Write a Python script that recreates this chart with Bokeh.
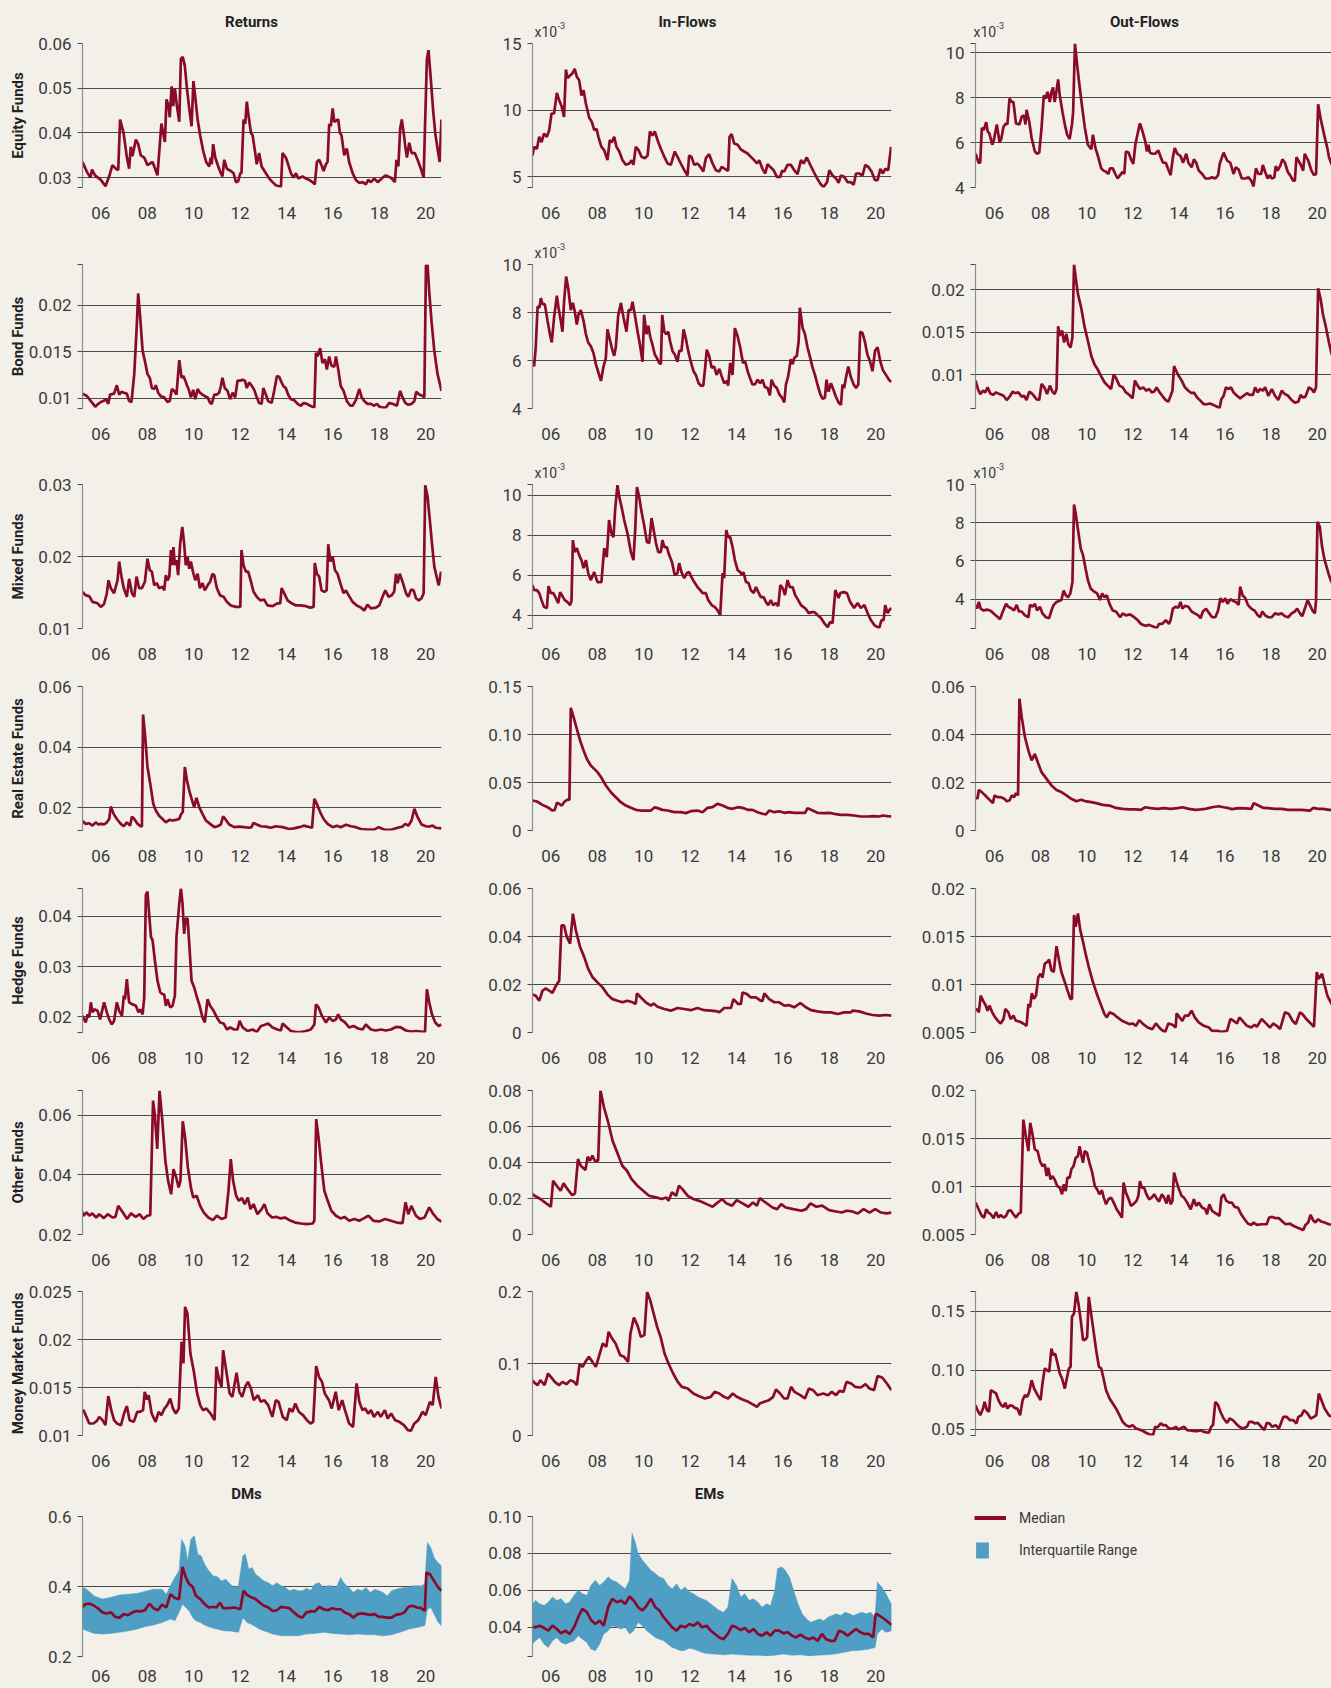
import math
from bokeh.plotting import figure
from bokeh.layouts import row, column
from bokeh.models import Range1d, FixedTicker, Label, Legend, LegendItem, GridBox
from bokeh.embed import file_html
from bokeh.resources import INLINE

BG = "#f2f0e9"
RED = "#8a0a2c"
BLUE = "#4f9ec4"
GRID = "#4a4a4a"
AXIS = "#8c8c8c"
TXT = "#3a3a3a"
FONT = "Roboto"

YEAR_TICKS = [2006, 2008, 2010, 2012, 2014, 2016, 2018, 2020]
YEAR_LABELS = ["06", "08", "10", "12", "14", "16", "18", "20"]
COL_TITLES = ["Returns", "In-Flows", "Out-Flows"]
ROW_LABELS = ["Equity Funds", "Bond Funds", "Mixed Funds", "Real Estate Funds",
              "Hedge Funds", "Other Funds", "Money Market Funds"]
BOTTOM_TITLES = ["DMs", "EMs"]
LEGEND_LABELS = ["Median", "Interquartile Range"]
SCALE_TEXT = ("x10", "-3")

# ---------------- data (year, value) ----------------
EQ_RET = [(2005.21,.0335),(2005.40,.0313),(2005.55,.0300),(2005.62,.0318),(2005.75,.0305),(2006.00,.0295),(2006.20,.0281),(2006.36,.0303),(2006.50,.0328),(2006.65,.0320),(2006.75,.0317),(2006.83,.0430),(2006.98,.0400),(2007.12,.0346),(2007.22,.0320),(2007.29,.0369),(2007.36,.0348),(2007.51,.0385),(2007.61,.0375),(2007.72,.0350),(2007.87,.0345),(2008.01,.0328),(2008.23,.0335),(2008.34,.0320),(2008.44,.0305),(2008.61,.0421),(2008.76,.0380),(2008.83,.0475),(2008.92,.0460),(2008.97,.0435),(2009.05,.0504),(2009.12,.0460),(2009.19,.0500),(2009.28,.0460),(2009.38,.0425),(2009.45,.0566),(2009.53,.0570),(2009.62,.0550),(2009.71,.0500),(2009.81,.0455),(2009.91,.0415),(2009.99,.0516),(2010.07,.0480),(2010.17,.0430),(2010.28,.0395),(2010.41,.0360),(2010.54,.0335),(2010.67,.0325),(2010.74,.0345),(2010.78,.0330),(2010.84,.0375),(2010.93,.0345),(2011.06,.0325),(2011.17,.0310),(2011.24,.0303),(2011.32,.0340),(2011.43,.0320),(2011.60,.0315),(2011.72,.0310),(2011.82,.0290),(2011.92,.0292),(2012.01,.0310),(2012.06,.0310),(2012.15,.0430),(2012.22,.0420),(2012.29,.0470),(2012.36,.0440),(2012.47,.0400),(2012.54,.0395),(2012.64,.0360),(2012.72,.0330),(2012.82,.0355),(2012.93,.0325),(2013.11,.0310),(2013.26,.0298),(2013.40,.0290),(2013.54,.0283),(2013.76,.0279),(2013.83,.0355),(2013.97,.0345),(2014.07,.0330),(2014.19,.0310),(2014.30,.0300),(2014.41,.0310),(2014.51,.0298),(2014.69,.0303),(2014.84,.0298),(2014.98,.0295),(2015.12,.0290),(2015.22,.0285),(2015.31,.0335),(2015.41,.0340),(2015.53,.0325),(2015.60,.0315),(2015.70,.0330),(2015.77,.0335),(2015.84,.0420),(2015.91,.0415),(2015.99,.0455),(2016.06,.0425),(2016.23,.0430),(2016.30,.0400),(2016.37,.0395),(2016.49,.0350),(2016.60,.0365),(2016.70,.0335),(2016.85,.0310),(2016.99,.0295),(2017.14,.0288),(2017.28,.0290),(2017.42,.0285),(2017.52,.0295),(2017.64,.0290),(2017.78,.0298),(2017.93,.0290),(2018.14,.0300),(2018.28,.0305),(2018.50,.0300),(2018.67,.0290),(2018.74,.0340),(2018.82,.0325),(2018.90,.0410),(2018.97,.0430),(2019.05,.0400),(2019.12,.0370),(2019.19,.0345),(2019.29,.0378),(2019.39,.0355),(2019.53,.0355),(2019.65,.0340),(2019.79,.0320),(2019.91,.0300),(2020.05,.0565),(2020.12,.0585),(2020.22,.0520),(2020.32,.0450),(2020.41,.0400),(2020.48,.0375),(2020.60,.0335),(2020.68,.0430)]

EQ_IN = [(2005.21,6.6),(2005.28,7.25),(2005.40,7.1),(2005.50,8.0),(2005.60,7.6),(2005.71,8.25),(2005.83,8.0),(2005.93,8.5),(2006.03,9.75),(2006.14,9.75),(2006.26,11.3),(2006.36,10.75),(2006.47,10.25),(2006.57,9.5),(2006.65,13.05),(2006.72,12.4),(2006.83,12.6),(2006.93,12.75),(2007.03,13.1),(2007.12,12.5),(2007.22,12.25),(2007.32,11.1),(2007.41,11.5),(2007.51,10.5),(2007.65,9.45),(2007.77,9.1),(2007.87,8.5),(2007.97,8.6),(2008.05,8.0),(2008.18,7.25),(2008.30,7.0),(2008.44,6.25),(2008.54,7.75),(2008.63,7.6),(2008.73,8.0),(2008.83,7.25),(2008.95,6.9),(2009.09,6.25),(2009.23,5.9),(2009.38,6.0),(2009.48,6.25),(2009.56,5.9),(2009.66,7.25),(2009.78,7.0),(2009.91,6.5),(2010.05,6.4),(2010.17,6.6),(2010.27,8.4),(2010.38,8.1),(2010.48,8.4),(2010.60,7.75),(2010.74,7.1),(2010.89,6.5),(2011.03,6.0),(2011.17,5.9),(2011.34,6.9),(2011.46,6.5),(2011.60,6.0),(2011.75,5.5),(2011.89,5.1),(2011.96,6.6),(2012.06,6.5),(2012.18,5.9),(2012.32,6.0),(2012.44,5.75),(2012.57,5.4),(2012.68,6.4),(2012.82,6.7),(2012.97,6.0),(2013.11,5.5),(2013.26,5.4),(2013.36,5.75),(2013.50,5.6),(2013.64,5.45),(2013.70,8.0),(2013.79,8.2),(2013.90,7.5),(2014.05,7.4),(2014.19,7.05),(2014.33,6.9),(2014.48,6.75),(2014.62,6.5),(2014.76,6.25),(2014.88,6.0),(2014.98,6.25),(2015.12,5.6),(2015.24,5.25),(2015.34,5.95),(2015.45,5.75),(2015.60,5.5),(2015.74,5.0),(2015.89,5.0),(2015.96,5.45),(2016.06,5.4),(2016.20,5.9),(2016.34,5.9),(2016.49,5.5),(2016.63,5.2),(2016.78,6.25),(2016.89,6.0),(2017.03,6.45),(2017.18,5.9),(2017.32,5.4),(2017.47,4.9),(2017.61,4.5),(2017.75,4.22),(2017.90,4.6),(2018.00,5.5),(2018.14,5.1),(2018.28,4.9),(2018.40,4.55),(2018.50,5.1),(2018.64,5.0),(2018.79,4.6),(2018.93,4.6),(2019.05,4.4),(2019.15,5.25),(2019.29,5.25),(2019.43,5.1),(2019.55,5.9),(2019.68,5.75),(2019.82,5.4),(2019.97,4.75),(2020.08,4.75),(2020.20,5.6),(2020.31,5.25),(2020.41,5.6),(2020.54,5.5),(2020.66,7.25)]

EQ_OUT = [(2005.18,5.5),(2005.31,5.1),(2005.38,5.1),(2005.45,6.65),(2005.53,6.55),(2005.64,6.9),(2005.70,6.5),(2005.78,6.4),(2005.90,5.9),(2005.96,6.05),(2006.10,6.8),(2006.22,6.0),(2006.29,6.15),(2006.39,6.7),(2006.50,6.85),(2006.56,6.8),(2006.65,7.95),(2006.75,7.8),(2006.82,7.8),(2006.93,6.85),(2007.08,6.8),(2007.18,7.15),(2007.28,7.2),(2007.34,6.8),(2007.39,7.45),(2007.51,6.9),(2007.61,6.2),(2007.75,5.6),(2007.85,5.5),(2007.94,5.55),(2008.04,6.65),(2008.14,8.1),(2008.21,7.95),(2008.30,8.25),(2008.40,7.8),(2008.47,8.25),(2008.54,8.45),(2008.61,7.8),(2008.69,8.3),(2008.76,8.8),(2008.83,8.1),(2008.95,7.35),(2009.05,6.8),(2009.15,6.35),(2009.26,6.15),(2009.36,6.8),(2009.41,7.35),(2009.49,10.4),(2009.59,9.4),(2009.69,8.5),(2009.81,7.5),(2009.92,6.65),(2010.05,5.9),(2010.20,5.7),(2010.27,6.35),(2010.38,5.75),(2010.50,5.35),(2010.63,4.85),(2010.73,4.75),(2010.84,4.7),(2010.94,4.6),(2011.01,4.85),(2011.13,4.85),(2011.24,4.6),(2011.34,4.4),(2011.45,4.55),(2011.56,4.7),(2011.63,4.6),(2011.70,5.6),(2011.82,5.55),(2011.92,5.25),(2012.02,5.05),(2012.11,5.9),(2012.21,6.4),(2012.31,6.85),(2012.42,6.5),(2012.54,6.05),(2012.61,5.6),(2012.68,5.9),(2012.74,5.55),(2012.85,5.5),(2012.97,5.5),(2013.11,5.65),(2013.21,5.35),(2013.31,5.1),(2013.43,5.1),(2013.54,4.8),(2013.64,4.55),(2013.74,5.35),(2013.82,5.75),(2013.93,5.5),(2014.07,5.4),(2014.18,5.1),(2014.32,5.5),(2014.41,5.1),(2014.55,4.9),(2014.65,5.25),(2014.75,5.1),(2014.86,4.75),(2015.01,4.6),(2015.15,4.4),(2015.30,4.4),(2015.44,4.45),(2015.58,4.4),(2015.70,4.55),(2015.77,5.05),(2015.87,5.35),(2015.94,5.55),(2016.09,5.2),(2016.23,5.1),(2016.37,4.6),(2016.47,4.9),(2016.59,4.8),(2016.73,4.4),(2016.88,4.4),(2017.02,4.45),(2017.14,4.3),(2017.24,4.05),(2017.34,4.85),(2017.45,4.6),(2017.57,4.6),(2017.64,5.0),(2017.74,4.7),(2017.85,4.4),(2017.95,4.55),(2018.03,4.4),(2018.14,4.45),(2018.20,4.95),(2018.28,4.75),(2018.39,4.95),(2018.49,5.25),(2018.60,5.1),(2018.72,4.7),(2018.82,4.55),(2018.96,4.3),(2019.03,4.3),(2019.10,5.35),(2019.18,5.2),(2019.29,5.0),(2019.39,4.75),(2019.46,5.5),(2019.61,5.2),(2019.75,4.75),(2019.86,4.55),(2019.95,4.6),(2020.04,7.7),(2020.15,7.05),(2020.30,6.35),(2020.44,5.75),(2020.51,5.35),(2020.60,5.1),(2020.70,4.9)]

BOND_RET = [(2005.21,.0105),(2005.40,.01025),(2005.57,.0097),(2005.76,.0091),(2005.89,.0094),(2006.00,.0096),(2006.11,.0097),(2006.22,.0099),(2006.32,.0094),(2006.40,.0104),(2006.57,.0105),(2006.69,.0114),(2006.79,.0104),(2006.89,.0107),(2006.99,.0106),(2007.12,.0105),(2007.22,.0097),(2007.32,.0096),(2007.44,.0126),(2007.55,.0179),(2007.61,.0213),(2007.70,.0186),(2007.80,.0151),(2007.90,.0140),(2008.01,.0126),(2008.11,.0122),(2008.20,.0111),(2008.30,.0110),(2008.37,.0114),(2008.47,.0106),(2008.59,.0102),(2008.73,.0101),(2008.87,.0096),(2008.97,.0097),(2009.06,.0110),(2009.16,.0108),(2009.26,.0104),(2009.38,.0141),(2009.48,.0122),(2009.56,.0124),(2009.64,.0119),(2009.71,.0114),(2009.78,.0110),(2009.88,.0101),(2009.98,.0109),(2010.07,.0099),(2010.17,.0110),(2010.27,.0106),(2010.38,.0104),(2010.50,.0102),(2010.60,.0101),(2010.71,.0095),(2010.78,.0094),(2010.89,.0104),(2011.00,.0104),(2011.10,.0106),(2011.17,.0113),(2011.24,.0122),(2011.34,.0111),(2011.46,.0108),(2011.57,.0099),(2011.68,.0106),(2011.79,.0101),(2011.89,.0119),(2012.01,.0119),(2012.11,.0120),(2012.21,.0119),(2012.29,.0111),(2012.39,.0117),(2012.49,.0114),(2012.61,.0109),(2012.72,.0101),(2012.82,.0095),(2012.93,.0094),(2013.00,.0111),(2013.11,.0104),(2013.21,.0097),(2013.36,.0095),(2013.47,.0108),(2013.59,.0124),(2013.69,.0123),(2013.79,.0117),(2013.87,.0113),(2013.97,.0111),(2014.07,.0104),(2014.19,.0099),(2014.33,.0098),(2014.48,.0094),(2014.62,.0092),(2014.74,.0095),(2014.88,.0094),(2015.02,.0092),(2015.12,.0091),(2015.20,.0090),(2015.27,.0149),(2015.34,.0145),(2015.45,.0154),(2015.55,.0138),(2015.66,.0142),(2015.74,.0131),(2015.84,.0145),(2015.94,.0135),(2016.06,.0134),(2016.13,.0145),(2016.23,.0131),(2016.34,.0113),(2016.46,.0108),(2016.60,.0097),(2016.75,.0092),(2016.85,.0092),(2016.99,.0098),(2017.14,.0110),(2017.24,.0101),(2017.35,.0097),(2017.49,.0094),(2017.64,.0094),(2017.78,.0092),(2017.90,.0094),(2018.00,.0091),(2018.14,.0090),(2018.28,.0090),(2018.43,.0095),(2018.57,.0094),(2018.76,.0092),(2018.90,.0108),(2019.00,.0101),(2019.12,.0095),(2019.25,.0093),(2019.39,.0094),(2019.51,.0097),(2019.59,.0107),(2019.72,.0104),(2019.82,.0103),(2019.94,.0101),(2020.01,.0243),(2020.08,.0243),(2020.15,.0215),(2020.25,.0183),(2020.37,.0151),(2020.51,.0126),(2020.68,.0108)]

BOND_IN = [(2005.21,6.0),(2005.28,5.75),(2005.35,6.55),(2005.43,8.25),(2005.51,8.2),(2005.57,8.6),(2005.64,8.35),(2005.74,8.35),(2005.86,7.65),(2005.96,7.1),(2006.04,6.75),(2006.14,7.8),(2006.26,8.7),(2006.33,8.2),(2006.43,7.65),(2006.50,7.2),(2006.57,8.45),(2006.66,9.5),(2006.75,9.0),(2006.86,8.1),(2006.95,8.4),(2007.03,8.05),(2007.12,7.5),(2007.19,7.9),(2007.29,8.1),(2007.41,7.65),(2007.51,7.1),(2007.61,6.75),(2007.72,6.6),(2007.84,6.3),(2007.94,5.85),(2008.05,5.5),(2008.16,5.15),(2008.27,5.75),(2008.37,6.1),(2008.44,7.3),(2008.56,6.8),(2008.66,6.4),(2008.73,6.2),(2008.80,6.55),(2008.90,7.85),(2009.02,8.4),(2009.13,7.8),(2009.26,7.2),(2009.35,8.1),(2009.45,8.1),(2009.52,8.45),(2009.62,7.9),(2009.74,7.2),(2009.85,6.6),(2009.95,5.95),(2010.02,7.9),(2010.12,7.1),(2010.20,7.45),(2010.28,7.0),(2010.38,6.65),(2010.48,6.25),(2010.57,6.1),(2010.67,5.9),(2010.74,5.85),(2010.80,7.9),(2010.89,7.2),(2010.97,7.1),(2011.06,7.2),(2011.14,6.8),(2011.24,6.4),(2011.34,6.25),(2011.46,5.95),(2011.53,6.4),(2011.63,6.4),(2011.72,7.3),(2011.82,6.9),(2011.92,6.4),(2012.03,5.95),(2012.15,5.55),(2012.25,5.4),(2012.37,5.05),(2012.47,4.95),(2012.57,4.95),(2012.65,5.7),(2012.72,6.45),(2012.82,6.2),(2012.93,5.7),(2013.04,5.75),(2013.14,5.4),(2013.26,5.65),(2013.36,5.35),(2013.47,5.05),(2013.59,5.15),(2013.64,4.95),(2013.73,5.9),(2013.83,5.4),(2013.93,7.35),(2014.05,7.0),(2014.16,6.55),(2014.28,5.9),(2014.38,5.95),(2014.48,5.55),(2014.59,5.25),(2014.69,5.0),(2014.79,5.0),(2014.91,5.2),(2015.02,5.05),(2015.12,5.2),(2015.22,4.9),(2015.34,4.85),(2015.44,4.55),(2015.51,5.2),(2015.63,4.95),(2015.74,4.85),(2015.84,4.6),(2015.96,4.45),(2016.06,4.25),(2016.13,5.0),(2016.23,5.35),(2016.34,6.05),(2016.42,5.85),(2016.49,6.1),(2016.60,6.2),(2016.68,6.8),(2016.73,8.2),(2016.85,7.35),(2016.95,7.1),(2017.06,6.55),(2017.18,6.1),(2017.28,5.7),(2017.38,5.4),(2017.49,5.0),(2017.61,4.6),(2017.71,4.4),(2017.81,4.45),(2017.88,5.2),(2017.97,4.7),(2018.07,5.05),(2018.17,4.8),(2018.28,4.5),(2018.40,4.25),(2018.50,4.15),(2018.57,5.0),(2018.64,4.85),(2018.72,5.3),(2018.82,5.75),(2018.93,5.3),(2019.05,5.0),(2019.15,4.85),(2019.25,5.0),(2019.33,7.2),(2019.43,7.15),(2019.53,6.8),(2019.64,6.25),(2019.76,5.95),(2019.86,5.55),(2019.97,6.4),(2020.08,6.55),(2020.20,5.95),(2020.31,5.6),(2020.44,5.4),(2020.57,5.2),(2020.68,5.1)]

BOND_OUT = [(2005.18,.0093),(2005.28,.0083),(2005.38,.0077),(2005.50,.0081),(2005.60,.0079),(2005.70,.0085),(2005.81,.0078),(2005.93,.0076),(2006.07,.0079),(2006.22,.0077),(2006.39,.0075),(2006.53,.0070),(2006.68,.0075),(2006.79,.0080),(2006.89,.0078),(2007.03,.0079),(2007.18,.0074),(2007.28,.0075),(2007.39,.0070),(2007.51,.0080),(2007.65,.0077),(2007.82,.0071),(2007.94,.0070),(2008.04,.0089),(2008.16,.0085),(2008.28,.0077),(2008.40,.0087),(2008.51,.0080),(2008.61,.0077),(2008.69,.0083),(2008.76,.0157),(2008.83,.0146),(2008.93,.0152),(2009.02,.0138),(2009.12,.0148),(2009.20,.0136),(2009.30,.0132),(2009.38,.0144),(2009.45,.0230),(2009.52,.0215),(2009.62,.0195),(2009.76,.0179),(2009.91,.0156),(2010.05,.0140),(2010.20,.0122),(2010.34,.0112),(2010.48,.0106),(2010.63,.0098),(2010.77,.0091),(2010.91,.0087),(2011.06,.0083),(2011.17,.0100),(2011.27,.0096),(2011.42,.0087),(2011.56,.0085),(2011.70,.0079),(2011.85,.0076),(2011.99,.0072),(2012.09,.0093),(2012.21,.0087),(2012.31,.0083),(2012.45,.0085),(2012.59,.0081),(2012.71,.0083),(2012.82,.0079),(2012.93,.0080),(2013.03,.0085),(2013.14,.0080),(2013.28,.0075),(2013.43,.0070),(2013.54,.0068),(2013.64,.0075),(2013.72,.0081),(2013.79,.0110),(2013.89,.0104),(2014.00,.0098),(2014.12,.0093),(2014.26,.0085),(2014.41,.0081),(2014.55,.0078),(2014.65,.0079),(2014.79,.0073),(2014.94,.0069),(2015.08,.0065),(2015.22,.0065),(2015.34,.0066),(2015.51,.0064),(2015.66,.0062),(2015.76,.0060),(2015.84,.0071),(2015.94,.0075),(2016.04,.0085),(2016.16,.0083),(2016.26,.0085),(2016.37,.0079),(2016.52,.0075),(2016.66,.0072),(2016.80,.0075),(2016.95,.0078),(2017.09,.0076),(2017.21,.0076),(2017.31,.0085),(2017.42,.0079),(2017.52,.0083),(2017.64,.0081),(2017.74,.0085),(2017.88,.0075),(2018.03,.0083),(2018.17,.0075),(2018.31,.0070),(2018.46,.0081),(2018.60,.0077),(2018.74,.0075),(2018.89,.0070),(2019.03,.0067),(2019.18,.0068),(2019.28,.0076),(2019.39,.0073),(2019.49,.0074),(2019.64,.0085),(2019.75,.0083),(2019.86,.0079),(2019.95,.0085),(2020.04,.0202),(2020.15,.0189),(2020.25,.0171),(2020.37,.0157),(2020.51,.0138),(2020.62,.0125),(2020.72,.0118)]

MIX_RET = [(2005.21,.0151),(2005.35,.0146),(2005.50,.0145),(2005.64,.0137),(2005.86,.0135),(2006.00,.0130),(2006.14,.0134),(2006.26,.0149),(2006.33,.0167),(2006.43,.0156),(2006.57,.0149),(2006.72,.0167),(2006.79,.0193),(2006.89,.0172),(2006.99,.0156),(2007.12,.0144),(2007.22,.0169),(2007.34,.0149),(2007.44,.0144),(2007.54,.0172),(2007.65,.0156),(2007.77,.0156),(2007.90,.0165),(2008.01,.0197),(2008.11,.0181),(2008.20,.0179),(2008.30,.0160),(2008.41,.0163),(2008.51,.0156),(2008.66,.0158),(2008.73,.0153),(2008.80,.0174),(2008.87,.0167),(2008.95,.0172),(2009.02,.0209),(2009.07,.0188),(2009.13,.0213),(2009.19,.0188),(2009.26,.0195),(2009.33,.0174),(2009.42,.0218),(2009.51,.0241),(2009.59,.0218),(2009.66,.0188),(2009.74,.0199),(2009.81,.0183),(2009.88,.0193),(2009.97,.0179),(2010.07,.0167),(2010.17,.0176),(2010.27,.0156),(2010.38,.0163),(2010.48,.0153),(2010.60,.0160),(2010.71,.0165),(2010.81,.0176),(2010.89,.0174),(2011.00,.0156),(2011.14,.0146),(2011.29,.0144),(2011.43,.0137),(2011.60,.0132),(2011.82,.0130),(2012.01,.0130),(2012.06,.0209),(2012.15,.0188),(2012.25,.0179),(2012.35,.0179),(2012.47,.0165),(2012.58,.0151),(2012.72,.0144),(2012.87,.0139),(2013.04,.0140),(2013.18,.0132),(2013.40,.0131),(2013.61,.0135),(2013.73,.0135),(2013.79,.0156),(2013.90,.0149),(2014.05,.0139),(2014.22,.0135),(2014.41,.0132),(2014.62,.0132),(2014.84,.0131),(2015.02,.0129),(2015.17,.0130),(2015.22,.0191),(2015.31,.0176),(2015.41,.0172),(2015.51,.0153),(2015.63,.0151),(2015.73,.0153),(2015.80,.0217),(2015.89,.0193),(2015.99,.0200),(2016.09,.0181),(2016.20,.0176),(2016.32,.0163),(2016.46,.0149),(2016.56,.0153),(2016.70,.0145),(2016.85,.0137),(2017.03,.0132),(2017.21,.0129),(2017.35,.0125),(2017.49,.0133),(2017.64,.0128),(2017.85,.0129),(2018.00,.0132),(2018.14,.0144),(2018.26,.0153),(2018.40,.0144),(2018.53,.0146),(2018.64,.0151),(2018.72,.0176),(2018.79,.0163),(2018.88,.0176),(2019.00,.0165),(2019.15,.0149),(2019.25,.0144),(2019.37,.0154),(2019.48,.0153),(2019.58,.0142),(2019.70,.0139),(2019.82,.0142),(2019.91,.0149),(2019.98,.0299),(2020.08,.0283),(2020.19,.0246),(2020.27,.0218),(2020.37,.0186),(2020.49,.0169),(2020.56,.0160),(2020.66,.0179)]

MIX_IN = [(2005.21,5.5),(2005.28,5.25),(2005.40,5.25),(2005.50,5.1),(2005.60,4.75),(2005.71,4.4),(2005.83,4.35),(2005.90,5.45),(2006.00,5.1),(2006.11,5.1),(2006.22,4.85),(2006.32,4.6),(2006.40,5.15),(2006.50,4.95),(2006.60,4.75),(2006.72,4.65),(2006.83,4.5),(2006.89,4.7),(2006.95,7.75),(2007.03,7.15),(2007.12,7.35),(2007.22,7.0),(2007.32,6.75),(2007.41,6.35),(2007.51,6.75),(2007.61,6.1),(2007.72,5.75),(2007.87,6.15),(2008.01,5.65),(2008.18,5.65),(2008.30,7.35),(2008.41,6.9),(2008.51,8.75),(2008.61,8.1),(2008.70,7.9),(2008.77,9.25),(2008.87,10.5),(2008.95,9.9),(2009.05,9.4),(2009.16,8.75),(2009.30,8.1),(2009.45,7.15),(2009.56,6.75),(2009.64,8.35),(2009.71,10.4),(2009.81,9.9),(2009.91,9.15),(2010.02,8.5),(2010.14,7.65),(2010.24,7.6),(2010.34,8.85),(2010.43,8.25),(2010.53,7.6),(2010.63,7.15),(2010.74,7.15),(2010.81,7.75),(2010.89,7.4),(2011.00,7.4),(2011.10,7.0),(2011.22,6.65),(2011.34,6.0),(2011.46,6.1),(2011.53,6.6),(2011.63,6.15),(2011.75,5.85),(2011.86,6.1),(2011.96,6.15),(2012.06,5.9),(2012.18,5.65),(2012.32,5.4),(2012.44,5.25),(2012.54,5.1),(2012.68,5.1),(2012.78,4.75),(2012.93,4.5),(2013.07,4.4),(2013.18,4.25),(2013.30,4.0),(2013.40,6.1),(2013.47,5.85),(2013.56,8.25),(2013.64,7.9),(2013.73,7.9),(2013.83,7.4),(2013.93,6.75),(2014.05,6.25),(2014.16,6.15),(2014.23,6.0),(2014.30,6.15),(2014.41,5.65),(2014.52,5.6),(2014.62,5.25),(2014.74,5.1),(2014.84,5.4),(2014.94,5.15),(2015.05,4.9),(2015.17,4.9),(2015.27,4.65),(2015.37,4.5),(2015.48,4.75),(2015.58,4.5),(2015.70,4.6),(2015.80,4.45),(2015.89,5.5),(2015.99,5.35),(2016.09,5.0),(2016.20,5.75),(2016.30,5.4),(2016.42,5.4),(2016.53,5.0),(2016.66,4.75),(2016.78,4.5),(2016.89,4.4),(2016.99,4.3),(2017.11,4.1),(2017.24,4.15),(2017.35,4.15),(2017.49,4.0),(2017.64,3.85),(2017.78,3.6),(2017.93,3.4),(2018.03,3.65),(2018.14,3.6),(2018.26,5.25),(2018.40,4.85),(2018.47,5.1),(2018.61,5.15),(2018.76,5.1),(2018.90,4.65),(2019.07,4.35),(2019.22,4.6),(2019.36,4.35),(2019.51,4.5),(2019.65,4.1),(2019.79,3.75),(2019.94,3.5),(2020.15,3.35),(2020.25,3.75),(2020.34,3.75),(2020.41,4.5),(2020.51,4.1),(2020.59,4.25),(2020.68,4.35)]

MIX_OUT = [(2005.18,3.7),(2005.24,3.5),(2005.32,3.85),(2005.40,3.5),(2005.53,3.4),(2005.67,3.45),(2005.81,3.4),(2005.96,3.25),(2006.10,3.1),(2006.24,2.95),(2006.36,3.35),(2006.50,3.75),(2006.60,3.6),(2006.75,3.5),(2006.85,3.4),(2006.96,3.7),(2007.06,3.35),(2007.18,3.35),(2007.32,3.15),(2007.47,3.05),(2007.54,3.7),(2007.65,3.6),(2007.75,3.75),(2007.85,3.4),(2007.97,3.6),(2008.08,3.25),(2008.23,3.05),(2008.37,3.0),(2008.47,3.4),(2008.57,3.7),(2008.69,3.85),(2008.80,3.9),(2008.90,3.95),(2009.00,4.45),(2009.09,4.2),(2009.19,4.1),(2009.29,4.3),(2009.38,4.9),(2009.45,8.95),(2009.52,8.5),(2009.62,7.65),(2009.74,6.65),(2009.84,6.3),(2009.95,5.6),(2010.05,5.0),(2010.17,4.55),(2010.31,4.4),(2010.45,4.3),(2010.58,3.95),(2010.67,4.3),(2010.77,4.1),(2010.87,4.2),(2010.99,3.75),(2011.13,3.4),(2011.27,3.35),(2011.45,3.05),(2011.56,3.25),(2011.70,3.15),(2011.88,3.2),(2012.06,3.05),(2012.21,2.9),(2012.35,2.7),(2012.54,2.6),(2012.71,2.65),(2012.90,2.55),(2013.03,2.47),(2013.14,2.7),(2013.28,2.7),(2013.43,2.9),(2013.57,2.7),(2013.64,2.9),(2013.74,3.5),(2013.86,3.6),(2013.97,3.55),(2014.07,3.85),(2014.15,3.5),(2014.26,3.65),(2014.41,3.6),(2014.55,3.35),(2014.69,3.25),(2014.84,3.15),(2014.94,3.0),(2015.04,3.35),(2015.18,3.5),(2015.32,3.25),(2015.44,3.05),(2015.58,3.05),(2015.70,3.4),(2015.80,4.05),(2015.90,3.85),(2016.01,4.05),(2016.11,3.75),(2016.23,4.0),(2016.37,3.9),(2016.47,3.85),(2016.59,3.7),(2016.66,4.65),(2016.76,4.2),(2016.88,4.05),(2016.99,3.7),(2017.14,3.5),(2017.28,3.4),(2017.42,3.15),(2017.52,3.05),(2017.62,3.35),(2017.74,3.15),(2017.88,3.05),(2018.03,3.05),(2018.17,3.25),(2018.31,3.2),(2018.46,3.25),(2018.60,3.1),(2018.74,3.05),(2018.89,3.25),(2019.03,3.35),(2019.13,3.5),(2019.25,3.25),(2019.35,3.1),(2019.49,3.6),(2019.58,3.95),(2019.68,3.7),(2019.80,3.4),(2019.90,3.25),(2019.95,3.95),(2020.01,8.05),(2020.11,7.8),(2020.21,6.75),(2020.32,6.05),(2020.44,5.55),(2020.51,5.25),(2020.62,4.9),(2020.72,4.7)]

RE_RET = [(2005.21,.0155),(2005.35,.0146),(2005.50,.0148),(2005.64,.0140),(2005.78,.0151),(2005.89,.0144),(2006.00,.0146),(2006.14,.0144),(2006.26,.0151),(2006.36,.0162),(2006.43,.0203),(2006.55,.0179),(2006.69,.0162),(2006.86,.0146),(2006.99,.0138),(2007.12,.0151),(2007.26,.0140),(2007.34,.0170),(2007.44,.0162),(2007.58,.0146),(2007.72,.0138),(2007.77,.0137),(2007.82,.0507),(2007.90,.0444),(2008.01,.0334),(2008.13,.0278),(2008.26,.0212),(2008.37,.0190),(2008.51,.0173),(2008.66,.0162),(2008.80,.0151),(2008.95,.0159),(2009.09,.0157),(2009.23,.0159),(2009.38,.0162),(2009.45,.0177),(2009.53,.0185),(2009.62,.0334),(2009.71,.0290),(2009.81,.0256),(2009.91,.0229),(2010.02,.0201),(2010.12,.0232),(2010.24,.0201),(2010.38,.0179),(2010.53,.0157),(2010.71,.0146),(2010.89,.0135),(2011.03,.0138),(2011.17,.0144),(2011.27,.0171),(2011.39,.0159),(2011.53,.0144),(2011.75,.0135),(2011.96,.0137),(2012.18,.0135),(2012.39,.0133),(2012.49,.0135),(2012.58,.0149),(2012.72,.0144),(2012.90,.0138),(2013.11,.0137),(2013.33,.0133),(2013.54,.0138),(2013.83,.0135),(2014.12,.0129),(2014.33,.0131),(2014.55,.0135),(2014.74,.0140),(2014.91,.0137),(2015.10,.0133),(2015.20,.0229),(2015.31,.0212),(2015.45,.0185),(2015.60,.0162),(2015.77,.0146),(2015.99,.0135),(2016.17,.0140),(2016.34,.0135),(2016.56,.0143),(2016.78,.0138),(2016.99,.0135),(2017.21,.0129),(2017.49,.0127),(2017.78,.0127),(2017.97,.0135),(2018.21,.0127),(2018.50,.0126),(2018.79,.0133),(2019.00,.0137),(2019.12,.0146),(2019.25,.0140),(2019.39,.0157),(2019.51,.0196),(2019.65,.0168),(2019.82,.0144),(2020.01,.0138),(2020.15,.0137),(2020.30,.0140),(2020.44,.0133),(2020.68,.0131)]

RE_IN = [(2005.21,.0313),(2005.40,.0302),(2005.64,.0267),(2005.86,.0243),(2006.07,.0208),(2006.17,.0215),(2006.26,.0288),(2006.36,.0278),(2006.47,.0260),(2006.57,.0295),(2006.72,.0323),(2006.80,.0319),(2006.86,.1278),(2006.98,.1181),(2007.12,.1059),(2007.26,.0938),(2007.41,.0833),(2007.55,.0747),(2007.72,.0677),(2007.87,.0642),(2008.01,.0608),(2008.18,.0549),(2008.37,.0469),(2008.59,.0399),(2008.80,.0347),(2009.02,.0295),(2009.23,.0260),(2009.45,.0236),(2009.66,.0215),(2009.88,.0208),(2010.09,.0208),(2010.31,.0208),(2010.48,.0243),(2010.60,.0233),(2010.81,.0215),(2011.03,.0208),(2011.32,.0191),(2011.60,.0191),(2011.82,.0181),(2012.03,.0201),(2012.32,.0208),(2012.54,.0191),(2012.75,.0236),(2012.97,.0243),(2013.18,.0278),(2013.40,.0260),(2013.61,.0236),(2013.83,.0226),(2014.05,.0243),(2014.26,.0236),(2014.48,.0215),(2014.69,.0215),(2014.91,.0191),(2015.12,.0174),(2015.27,.0167),(2015.41,.0208),(2015.63,.0191),(2015.84,.0201),(2016.06,.0184),(2016.27,.0191),(2016.49,.0184),(2016.78,.0184),(2016.96,.0184),(2017.06,.0233),(2017.28,.0208),(2017.49,.0184),(2017.78,.0181),(2018.00,.0184),(2018.21,.0174),(2018.50,.0163),(2018.79,.0163),(2019.07,.0156),(2019.36,.0146),(2019.65,.0146),(2019.94,.0149),(2020.15,.0146),(2020.30,.0156),(2020.51,.0149),(2020.68,.0146)]

RE_OUT = [(2005.18,.0139),(2005.26,.0132),(2005.32,.0169),(2005.45,.0160),(2005.60,.0146),(2005.74,.0132),(2005.93,.0114),(2006.00,.0146),(2006.13,.0139),(2006.27,.0139),(2006.42,.0132),(2006.53,.0122),(2006.65,.0125),(2006.75,.0146),(2006.85,.0139),(2006.93,.0156),(2007.02,.0146),(2007.08,.0549),(2007.18,.0472),(2007.32,.0389),(2007.47,.0333),(2007.61,.0292),(2007.75,.0319),(2007.90,.0278),(2008.04,.0243),(2008.26,.0215),(2008.47,.0188),(2008.69,.0169),(2008.90,.0160),(2009.12,.0146),(2009.33,.0132),(2009.55,.0122),(2009.76,.0128),(2009.98,.0121),(2010.20,.0118),(2010.41,.0114),(2010.70,.0107),(2010.99,.0104),(2011.27,.0094),(2011.56,.0090),(2011.85,.0088),(2012.14,.0088),(2012.35,.0086),(2012.54,.0097),(2012.78,.0093),(2013.07,.0090),(2013.36,.0093),(2013.64,.0090),(2013.93,.0093),(2014.15,.0097),(2014.43,.0090),(2014.72,.0086),(2014.94,.0088),(2015.15,.0090),(2015.44,.0097),(2015.73,.0101),(2015.94,.0097),(2016.16,.0093),(2016.30,.0089),(2016.59,.0093),(2016.88,.0092),(2017.14,.0090),(2017.24,.0114),(2017.45,.0104),(2017.67,.0094),(2017.88,.0093),(2018.17,.0090),(2018.46,.0090),(2018.74,.0086),(2019.03,.0086),(2019.32,.0086),(2019.68,.0083),(2019.83,.0094),(2020.04,.0090),(2020.25,.0090),(2020.51,.0086),(2020.72,.0085)]

HEDGE_RET = [(2005.21,.0202),(2005.28,.0195),(2005.35,.0189),(2005.43,.0205),(2005.50,.0199),(2005.57,.0229),(2005.64,.0209),(2005.71,.0215),(2005.86,.0212),(2005.97,.0195),(2006.07,.0215),(2006.14,.0229),(2006.26,.0209),(2006.36,.0195),(2006.47,.0185),(2006.57,.0192),(2006.69,.0229),(2006.79,.0212),(2006.91,.0202),(2006.99,.0242),(2007.04,.0235),(2007.12,.0275),(2007.22,.0229),(2007.36,.0225),(2007.51,.0222),(2007.62,.0209),(2007.70,.0215),(2007.80,.0205),(2007.87,.0239),(2007.94,.0442),(2008.01,.0449),(2008.08,.0405),(2008.16,.0359),(2008.23,.0352),(2008.33,.0312),(2008.44,.0272),(2008.56,.0249),(2008.66,.0245),(2008.73,.0245),(2008.80,.0222),(2008.87,.0235),(2008.99,.0219),(2009.09,.0222),(2009.19,.0242),(2009.26,.0359),(2009.38,.0425),(2009.45,.0455),(2009.52,.0425),(2009.59,.0365),(2009.66,.0395),(2009.74,.0395),(2009.81,.0345),(2009.91,.0272),(2010.02,.0259),(2010.14,.0239),(2010.24,.0225),(2010.38,.0199),(2010.48,.0189),(2010.60,.0235),(2010.71,.0222),(2010.86,.0212),(2011.00,.0199),(2011.14,.0189),(2011.29,.0187),(2011.43,.0175),(2011.57,.0179),(2011.75,.0175),(2011.89,.0175),(2011.98,.0192),(2012.11,.0179),(2012.32,.0172),(2012.54,.0175),(2012.72,.0170),(2012.90,.0182),(2013.04,.0184),(2013.21,.0187),(2013.40,.0179),(2013.61,.0175),(2013.76,.0173),(2013.83,.0187),(2014.02,.0179),(2014.19,.0172),(2014.41,.0170),(2014.62,.0170),(2014.84,.0172),(2015.05,.0175),(2015.20,.0185),(2015.27,.0225),(2015.38,.0219),(2015.53,.0202),(2015.70,.0189),(2015.84,.0199),(2015.99,.0192),(2016.13,.0195),(2016.23,.0205),(2016.34,.0195),(2016.52,.0189),(2016.70,.0179),(2016.89,.0182),(2017.09,.0177),(2017.28,.0175),(2017.42,.0185),(2017.64,.0175),(2017.85,.0173),(2018.07,.0175),(2018.28,.0173),(2018.50,.0175),(2018.72,.0180),(2018.93,.0179),(2019.15,.0173),(2019.36,.0171),(2019.58,.0172),(2019.79,.0171),(2019.97,.0170),(2020.05,.0255),(2020.15,.0229),(2020.27,.0205),(2020.41,.0189),(2020.56,.0182),(2020.68,.0185)]

HEDGE_IN = [(2005.21,.0158),(2005.35,.0153),(2005.50,.0132),(2005.64,.0174),(2005.78,.0184),(2005.93,.0174),(2006.07,.0165),(2006.22,.0195),(2006.36,.0216),(2006.46,.0446),(2006.57,.0446),(2006.69,.0397),(2006.83,.0370),(2006.95,.0495),(2007.08,.0425),(2007.26,.0356),(2007.44,.0314),(2007.61,.0265),(2007.80,.0230),(2008.01,.0209),(2008.23,.0188),(2008.44,.0158),(2008.66,.0139),(2008.87,.0132),(2009.09,.0126),(2009.30,.0132),(2009.52,.0126),(2009.66,.0119),(2009.71,.0163),(2009.88,.0146),(2010.09,.0126),(2010.31,.0112),(2010.43,.0121),(2010.60,.0107),(2010.89,.0098),(2011.17,.0091),(2011.46,.0102),(2011.75,.0098),(2012.03,.0093),(2012.32,.0102),(2012.61,.0093),(2012.90,.0091),(2013.18,.0088),(2013.26,.0084),(2013.47,.0102),(2013.76,.0102),(2013.87,.0139),(2014.07,.0119),(2014.19,.0119),(2014.26,.0167),(2014.45,.0160),(2014.62,.0146),(2014.84,.0146),(2015.05,.0132),(2015.12,.0132),(2015.20,.0163),(2015.41,.0139),(2015.63,.0126),(2015.84,.0126),(2016.06,.0112),(2016.27,.0114),(2016.49,.0105),(2016.75,.0123),(2016.99,.0105),(2017.21,.0093),(2017.49,.0088),(2017.78,.0084),(2018.07,.0084),(2018.36,.0077),(2018.64,.0084),(2018.93,.0084),(2019.00,.0091),(2019.29,.0088),(2019.58,.0079),(2019.86,.0073),(2020.15,.0070),(2020.44,.0073),(2020.68,.0070)]

HEDGE_OUT = [(2005.18,.00745),(2005.26,.00734),(2005.32,.0071),(2005.40,.00885),(2005.50,.00832),(2005.61,.00787),(2005.70,.00727),(2005.78,.0078),(2005.90,.0071),(2006.03,.00657),(2006.17,.00615),(2006.27,.00594),(2006.39,.0064),(2006.47,.00745),(2006.60,.0071),(2006.70,.0064),(2006.82,.00675),(2006.93,.00622),(2007.08,.00615),(2007.25,.00594),(2007.39,.0057),(2007.47,.00797),(2007.54,.00762),(2007.62,.00909),(2007.71,.0085),(2007.80,.00885),(2007.90,.01077),(2008.00,.01112),(2008.08,.0107),(2008.18,.01217),(2008.28,.01234),(2008.37,.01259),(2008.47,.01147),(2008.57,.0113),(2008.69,.01399),(2008.80,.01252),(2008.90,.0113),(2009.05,.01024),(2009.19,.0092),(2009.29,.0085),(2009.36,.0085),(2009.45,.01724),(2009.52,.01601),(2009.62,.01741),(2009.72,.01566),(2009.84,.01444),(2009.95,.01322),(2010.09,.01182),(2010.27,.01024),(2010.44,.00902),(2010.63,.0078),(2010.77,.00692),(2010.87,.00657),(2010.99,.0071),(2011.16,.00692),(2011.34,.00657),(2011.53,.00622),(2011.70,.00605),(2011.85,.00587),(2011.99,.00594),(2012.14,.0057),(2012.28,.00629),(2012.45,.00587),(2012.64,.00552),(2012.85,.00535),(2013.00,.00594),(2013.21,.00535),(2013.40,.00502),(2013.54,.00594),(2013.72,.0058),(2013.86,.00552),(2013.90,.00699),(2014.03,.00657),(2014.15,.00622),(2014.26,.00675),(2014.41,.00675),(2014.55,.00727),(2014.69,.00657),(2014.86,.00605),(2015.08,.0057),(2015.30,.00552),(2015.44,.00517),(2015.66,.00517),(2015.87,.00507),(2016.09,.00517),(2016.23,.0064),(2016.37,.00622),(2016.52,.00594),(2016.62,.00657),(2016.76,.00622),(2016.95,.0057),(2017.14,.00552),(2017.28,.0058),(2017.38,.00559),(2017.59,.0064),(2017.81,.00587),(2017.95,.00552),(2018.10,.00594),(2018.24,.0057),(2018.39,.00535),(2018.60,.0071),(2018.77,.00692),(2018.93,.00622),(2019.07,.00587),(2019.25,.0071),(2019.36,.00692),(2019.53,.0064),(2019.72,.00594),(2019.86,.00559),(2019.98,.01129),(2020.07,.0106),(2020.21,.01112),(2020.33,.0099),(2020.44,.00885),(2020.51,.0085),(2020.62,.0080),(2020.72,.0078)]

OTHER_RET = [(2005.15,.0285),(2005.25,.0263),(2005.38,.0274),(2005.50,.0263),(2005.63,.0271),(2005.80,.0257),(2005.93,.0268),(2006.13,.0255),(2006.30,.0268),(2006.50,.0257),(2006.63,.0259),(2006.75,.0296),(2006.93,.0276),(2007.13,.0252),(2007.30,.0271),(2007.50,.0259),(2007.68,.0268),(2007.83,.0252),(2008.00,.0263),(2008.13,.0265),(2008.25,.0649),(2008.33,.0599),(2008.43,.0487),(2008.53,.0683),(2008.65,.0582),(2008.78,.0447),(2008.90,.0380),(2009.03,.0335),(2009.13,.0419),(2009.25,.0391),(2009.35,.0358),(2009.43,.0380),(2009.53,.0580),(2009.63,.0526),(2009.75,.0425),(2009.88,.0358),(2009.98,.0324),(2010.13,.0330),(2010.28,.0296),(2010.43,.0274),(2010.63,.0257),(2010.83,.0248),(2011.00,.0263),(2011.20,.0252),(2011.38,.0257),(2011.50,.0347),(2011.60,.0453),(2011.70,.0380),(2011.83,.0330),(2011.95,.0313),(2012.08,.0322),(2012.20,.0302),(2012.33,.0324),(2012.45,.0285),(2012.58,.0302),(2012.75,.0268),(2012.93,.0285),(2013.05,.0302),(2013.18,.0271),(2013.38,.0257),(2013.58,.0259),(2013.75,.0254),(2013.93,.0257),(2014.13,.0248),(2014.38,.0240),(2014.63,.0237),(2014.88,.0235),(2015.13,.0237),(2015.20,.0246),(2015.28,.0587),(2015.38,.0526),(2015.50,.0436),(2015.63,.0347),(2015.75,.0319),(2015.93,.0280),(2016.13,.0263),(2016.33,.0254),(2016.50,.0259),(2016.70,.0246),(2016.93,.0252),(2017.13,.0246),(2017.33,.0254),(2017.53,.0263),(2017.75,.0246),(2018.00,.0244),(2018.25,.0252),(2018.50,.0246),(2018.75,.0240),(2019.00,.0238),(2019.13,.0308),(2019.25,.0268),(2019.38,.0296),(2019.58,.0263),(2019.75,.0252),(2019.95,.0257),(2020.15,.0291),(2020.33,.0268),(2020.50,.0252),(2020.68,.0243)]

OTHER_IN = [(2005.10,.0237),(2005.30,.0215),(2005.55,.0197),(2005.80,.0173),(2006.00,.0154),(2006.10,.0299),(2006.25,.0271),(2006.42,.0243),(2006.55,.0284),(2006.72,.0252),(2006.92,.0219),(2007.04,.0228),(2007.17,.0419),(2007.29,.0382),(2007.49,.0358),(2007.59,.0432),(2007.69,.0410),(2007.79,.0438),(2007.89,.0410),(2008.04,.0410),(2008.14,.0800),(2008.29,.0707),(2008.49,.0614),(2008.66,.0521),(2008.86,.0456),(2009.08,.0382),(2009.28,.0354),(2009.48,.0308),(2009.73,.0271),(2009.98,.0243),(2010.23,.0215),(2010.53,.0206),(2010.78,.0197),(2010.98,.0206),(2011.07,.0187),(2011.22,.0234),(2011.40,.0215),(2011.52,.0271),(2011.67,.0252),(2011.90,.0215),(2012.14,.0197),(2012.39,.0187),(2012.64,.0173),(2012.97,.0154),(2013.14,.0173),(2013.39,.0197),(2013.56,.0173),(2013.81,.0160),(2014.01,.0191),(2014.26,.0173),(2014.51,.0154),(2014.71,.0178),(2014.88,.0160),(2015.00,.0202),(2015.25,.0178),(2015.55,.0150),(2015.75,.0141),(2015.93,.0169),(2016.12,.0150),(2016.45,.0141),(2016.80,.0132),(2017.00,.0141),(2017.19,.0173),(2017.44,.0154),(2017.69,.0160),(2017.99,.0135),(2018.29,.0128),(2018.54,.0122),(2018.74,.0132),(2018.99,.0128),(2019.23,.0117),(2019.48,.0141),(2019.73,.0122),(2019.98,.0141),(2020.23,.0122),(2020.48,.0117),(2020.68,.0122)]

OTHER_OUT = [(2005.18,.00832),(2005.31,.00763),(2005.45,.00694),(2005.55,.00676),(2005.64,.00763),(2005.74,.00728),(2005.84,.00711),(2005.96,.0067),(2006.07,.00735),(2006.17,.00676),(2006.27,.00704),(2006.39,.00676),(2006.50,.00694),(2006.60,.00746),(2006.70,.00753),(2006.82,.00711),(2006.93,.00676),(2007.05,.00718),(2007.14,.00728),(2007.25,.01697),(2007.35,.01542),(2007.47,.01369),(2007.55,.01663),(2007.65,.01542),(2007.75,.01386),(2007.87,.01369),(2007.97,.01265),(2008.08,.01213),(2008.18,.0123),(2008.26,.01109),(2008.33,.01196),(2008.43,.01074),(2008.51,.01109),(2008.61,.01074),(2008.72,.01005),(2008.83,.00988),(2008.93,.00919),(2009.00,.01022),(2009.09,.00953),(2009.16,.01092),(2009.26,.01092),(2009.33,.01178),(2009.43,.01213),(2009.52,.01299),(2009.62,.01317),(2009.69,.0142),(2009.76,.01334),(2009.84,.01247),(2009.91,.01369),(2010.01,.01351),(2010.12,.01247),(2010.24,.01144),(2010.35,.01005),(2010.45,.00971),(2010.55,.00919),(2010.66,.0096),(2010.74,.00884),(2010.84,.00815),(2010.94,.00867),(2011.06,.00884),(2011.17,.00832),(2011.30,.00763),(2011.42,.00718),(2011.53,.00676),(2011.60,.0104),(2011.70,.00936),(2011.82,.00867),(2011.92,.00798),(2012.02,.00815),(2012.16,.0085),(2012.24,.00901),(2012.31,.01057),(2012.39,.00988),(2012.49,.00988),(2012.59,.00919),(2012.71,.00867),(2012.82,.00884),(2012.93,.00919),(2013.03,.00877),(2013.14,.00843),(2013.26,.00919),(2013.36,.00884),(2013.46,.00822),(2013.54,.00912),(2013.64,.00815),(2013.72,.0085),(2013.79,.01144),(2013.89,.01057),(2014.00,.00971),(2014.12,.00901),(2014.22,.00884),(2014.36,.00832),(2014.51,.00763),(2014.65,.00867),(2014.75,.00798),(2014.86,.00832),(2015.01,.0078),(2015.15,.00763),(2015.22,.00711),(2015.32,.00815),(2015.44,.00746),(2015.55,.00728),(2015.66,.00711),(2015.76,.00694),(2015.84,.00884),(2015.94,.00919),(2016.06,.0085),(2016.19,.00832),(2016.30,.00832),(2016.42,.00787),(2016.56,.0078),(2016.70,.00711),(2016.85,.00659),(2016.99,.00614),(2017.14,.006),(2017.24,.00625),(2017.38,.006),(2017.59,.00607),(2017.81,.00607),(2017.91,.00676),(2018.05,.00683),(2018.20,.0067),(2018.34,.0067),(2018.49,.00635),(2018.63,.00607),(2018.82,.00614),(2018.96,.0059),(2019.13,.00573),(2019.32,.00555),(2019.39,.00545),(2019.49,.006),(2019.61,.00625),(2019.71,.00704),(2019.82,.00649),(2019.92,.00625),(2020.04,.00659),(2020.18,.00635),(2020.32,.00625),(2020.51,.00607),(2020.72,.0060)]

MM_RET = [(2005.15,.01247),(2005.25,.01264),(2005.38,.01194),(2005.50,.01125),(2005.68,.01125),(2005.83,.01153),(2005.93,.01194),(2006.07,.0116),(2006.20,.01108),(2006.32,.0141),(2006.45,.01264),(2006.57,.0116),(2006.70,.01125),(2006.87,.01108),(2007.00,.01229),(2007.12,.01306),(2007.24,.0116),(2007.42,.01142),(2007.57,.01247),(2007.69,.01247),(2007.82,.01264),(2007.89,.01455),(2007.99,.01375),(2008.06,.0142),(2008.19,.01229),(2008.36,.01142),(2008.49,.01247),(2008.61,.01212),(2008.74,.01281),(2008.86,.01316),(2008.99,.01385),(2009.11,.01281),(2009.23,.01229),(2009.36,.01281),(2009.48,.01976),(2009.56,.0175),(2009.63,.0234),(2009.73,.02271),(2009.86,.01854),(2010.01,.01663),(2010.15,.01438),(2010.28,.01316),(2010.40,.01264),(2010.55,.01281),(2010.73,.01229),(2010.90,.0116),(2010.98,.01715),(2011.10,.01576),(2011.20,.01507),(2011.27,.01889),(2011.40,.01681),(2011.55,.01438),(2011.67,.01403),(2011.85,.01653),(2011.97,.01455),(2012.09,.01403),(2012.22,.01507),(2012.34,.01559),(2012.47,.0149),(2012.59,.01368),(2012.77,.0142),(2012.89,.01351),(2013.04,.01368),(2013.21,.01316),(2013.39,.01194),(2013.54,.01368),(2013.66,.01351),(2013.84,.01194),(2014.01,.0116),(2014.13,.01281),(2014.26,.01247),(2014.38,.01333),(2014.53,.01247),(2014.71,.01212),(2014.88,.0116),(2015.03,.01125),(2015.15,.01142),(2015.28,.01722),(2015.40,.01611),(2015.53,.01559),(2015.65,.01438),(2015.83,.01368),(2015.95,.01281),(2016.12,.01455),(2016.25,.01264),(2016.40,.01368),(2016.52,.01264),(2016.70,.01125),(2016.87,.0109),(2017.02,.01542),(2017.14,.01351),(2017.27,.01264),(2017.39,.01281),(2017.52,.01229),(2017.64,.01264),(2017.77,.01194),(2017.94,.01247),(2018.06,.01194),(2018.24,.01264),(2018.36,.01177),(2018.51,.01229),(2018.68,.0116),(2018.86,.01142),(2019.06,.01108),(2019.23,.01056),(2019.36,.01049),(2019.51,.01125),(2019.68,.0116),(2019.86,.01247),(2020.00,.01212),(2020.18,.01351),(2020.30,.01316),(2020.43,.01611),(2020.55,.01403),(2020.68,.01281)]

MM_IN = [(2005.10,.0815),(2005.25,.0745),(2005.43,.0699),(2005.55,.0769),(2005.73,.0699),(2005.88,.0861),(2006.00,.0815),(2006.17,.0745),(2006.35,.0699),(2006.50,.0745),(2006.67,.0713),(2006.85,.0769),(2007.00,.0745),(2007.12,.0699),(2007.24,.0991),(2007.37,.0954),(2007.49,.1023),(2007.64,.1093),(2007.79,.1023),(2007.94,.0954),(2008.09,.1116),(2008.24,.1278),(2008.39,.1231),(2008.49,.1440),(2008.64,.1347),(2008.79,.1278),(2008.99,.1116),(2009.16,.1093),(2009.33,.1023),(2009.43,.1417),(2009.58,.1639),(2009.73,.1532),(2009.88,.1370),(2010.03,.1394),(2010.15,.1995),(2010.28,.1880),(2010.43,.1694),(2010.58,.1509),(2010.73,.1370),(2010.90,.1139),(2011.07,.1000),(2011.27,.0861),(2011.47,.0745),(2011.65,.0676),(2011.90,.0653),(2012.14,.0583),(2012.39,.0546),(2012.64,.0514),(2012.89,.0537),(2013.06,.0606),(2013.26,.0583),(2013.46,.0537),(2013.64,.0514),(2013.84,.0583),(2014.01,.0537),(2014.26,.0500),(2014.51,.0468),(2014.76,.0421),(2014.88,.0398),(2015.00,.0444),(2015.20,.0468),(2015.40,.0491),(2015.58,.0537),(2015.70,.0639),(2015.88,.0583),(2016.05,.0514),(2016.20,.0514),(2016.35,.0676),(2016.50,.0606),(2016.75,.0560),(2016.95,.0514),(2017.12,.0653),(2017.30,.0630),(2017.49,.0560),(2017.74,.0583),(2017.94,.0560),(2018.11,.0606),(2018.29,.0560),(2018.44,.0620),(2018.61,.0606),(2018.74,.0745),(2018.94,.0722),(2019.11,.0676),(2019.36,.0667),(2019.56,.0713),(2019.73,.0653),(2019.93,.0630),(2020.08,.0824),(2020.28,.0806),(2020.48,.0722),(2020.68,.0630)]

MM_OUT = [(2005.18,.0706),(2005.26,.0664),(2005.38,.0621),(2005.50,.0678),(2005.57,.0734),(2005.67,.0664),(2005.76,.0650),(2005.84,.0833),(2005.96,.0819),(2006.07,.0805),(2006.17,.0749),(2006.29,.0706),(2006.39,.0692),(2006.47,.0726),(2006.56,.0678),(2006.68,.0706),(2006.79,.0698),(2006.91,.0678),(2006.99,.0678),(2007.11,.0621),(2007.22,.0749),(2007.32,.0791),(2007.42,.0777),(2007.51,.0819),(2007.61,.0918),(2007.72,.0847),(2007.87,.0791),(2008.00,.0749),(2008.08,.0890),(2008.18,.1017),(2008.28,.1003),(2008.37,.0989),(2008.47,.1186),(2008.54,.1130),(2008.63,.1144),(2008.72,.1073),(2008.83,.0975),(2008.93,.0932),(2009.05,.0847),(2009.15,.0946),(2009.23,.1017),(2009.30,.1031),(2009.36,.1455),(2009.45,.1483),(2009.55,.1667),(2009.64,.1568),(2009.74,.1427),(2009.84,.1257),(2009.95,.1263),(2010.02,.1285),(2010.09,.1624),(2010.20,.1469),(2010.31,.1314),(2010.41,.1172),(2010.53,.1031),(2010.63,.1017),(2010.73,.0932),(2010.84,.0833),(2010.99,.0763),(2011.13,.0720),(2011.27,.0678),(2011.42,.0621),(2011.56,.0565),(2011.70,.0537),(2011.85,.0523),(2011.99,.0537),(2012.14,.0508),(2012.28,.0500),(2012.42,.0489),(2012.57,.0472),(2012.71,.0460),(2012.88,.0452),(2012.97,.0523),(2013.07,.0517),(2013.21,.0551),(2013.31,.0537),(2013.43,.0537),(2013.57,.0508),(2013.74,.0508),(2013.86,.0523),(2013.97,.0500),(2014.07,.0508),(2014.22,.0523),(2014.36,.0494),(2014.58,.0489),(2014.79,.0486),(2014.94,.0494),(2015.08,.0480),(2015.30,.0472),(2015.40,.0523),(2015.48,.0537),(2015.58,.0734),(2015.70,.0706),(2015.80,.0650),(2015.94,.0593),(2016.09,.0556),(2016.20,.0593),(2016.34,.0579),(2016.47,.0551),(2016.62,.0523),(2016.76,.0508),(2016.95,.0523),(2017.05,.0565),(2017.16,.0565),(2017.31,.0551),(2017.42,.0556),(2017.57,.0523),(2017.71,.0494),(2017.81,.0556),(2017.93,.0551),(2018.05,.0523),(2018.20,.0537),(2018.34,.0508),(2018.53,.0607),(2018.67,.0607),(2018.82,.0579),(2018.96,.0579),(2019.10,.0551),(2019.18,.0607),(2019.32,.0621),(2019.43,.0664),(2019.58,.0636),(2019.72,.0593),(2019.86,.0607),(2019.96,.0621),(2020.07,.0805),(2020.18,.0749),(2020.32,.0678),(2020.51,.0621),(2020.72,.0600)]

DM_MED = [(2005.16,.338),(2005.34,.350),(2005.52,.351),(2005.71,.345),(2005.89,.337),(2006.07,.326),(2006.26,.323),(2006.44,.326),(2006.62,.313),(2006.81,.311),(2006.99,.321),(2007.17,.318),(2007.36,.326),(2007.54,.330),(2007.72,.329),(2007.90,.332),(2008.09,.351),(2008.27,.338),(2008.45,.332),(2008.64,.348),(2008.82,.340),(2009.00,.378),(2009.19,.367),(2009.37,.364),(2009.52,.456),(2009.66,.426),(2009.81,.407),(2009.96,.399),(2010.10,.373),(2010.29,.364),(2010.47,.350),(2010.65,.340),(2010.84,.342),(2010.98,.340),(2011.13,.354),(2011.28,.338),(2011.49,.338),(2011.75,.340),(2012.01,.335),(2012.15,.388),(2012.30,.376),(2012.48,.369),(2012.67,.364),(2012.85,.354),(2013.03,.345),(2013.22,.340),(2013.40,.330),(2013.58,.332),(2013.77,.342),(2013.95,.340),(2014.13,.338),(2014.32,.326),(2014.50,.316),(2014.68,.311),(2014.86,.326),(2015.05,.329),(2015.23,.329),(2015.41,.342),(2015.60,.335),(2015.78,.332),(2015.96,.338),(2016.15,.335),(2016.33,.335),(2016.51,.326),(2016.70,.321),(2016.88,.311),(2017.06,.321),(2017.25,.323),(2017.43,.321),(2017.61,.319),(2017.80,.321),(2017.98,.313),(2018.16,.313),(2018.34,.311),(2018.53,.311),(2018.71,.319),(2018.89,.321),(2019.08,.326),(2019.26,.342),(2019.44,.345),(2019.63,.340),(2019.81,.338),(2019.96,.330),(2020.03,.440),(2020.18,.435),(2020.36,.416),(2020.54,.397),(2020.68,.388)]
DM_UP = [(2005.16,.397),(2005.34,.395),(2005.71,.373),(2006.07,.364),(2006.44,.369),(2006.81,.376),(2007.17,.378),(2007.54,.380),(2007.90,.386),(2008.27,.392),(2008.64,.392),(2008.82,.378),(2009.00,.402),(2009.19,.426),(2009.37,.445),(2009.48,.535),(2009.63,.516),(2009.74,.473),(2009.88,.535),(2010.03,.545),(2010.18,.492),(2010.32,.488),(2010.47,.464),(2010.65,.445),(2010.84,.430),(2011.02,.428),(2011.20,.416),(2011.38,.421),(2011.57,.407),(2011.75,.397),(2011.93,.402),(2012.12,.488),(2012.23,.492),(2012.37,.450),(2012.52,.454),(2012.67,.435),(2012.85,.426),(2013.03,.416),(2013.22,.411),(2013.40,.402),(2013.58,.411),(2013.77,.402),(2013.95,.397),(2014.13,.388),(2014.32,.392),(2014.50,.388),(2014.68,.388),(2014.86,.395),(2015.05,.389),(2015.23,.407),(2015.41,.411),(2015.60,.397),(2015.78,.402),(2015.96,.402),(2016.15,.397),(2016.33,.426),(2016.51,.407),(2016.70,.397),(2016.88,.383),(2017.06,.392),(2017.25,.388),(2017.43,.397),(2017.61,.383),(2017.80,.392),(2017.98,.388),(2018.16,.383),(2018.34,.373),(2018.53,.388),(2018.71,.392),(2018.89,.395),(2019.08,.397),(2019.26,.397),(2019.44,.402),(2019.63,.402),(2019.81,.402),(2019.96,.407),(2020.07,.526),(2020.22,.511),(2020.36,.483),(2020.51,.469),(2020.68,.459)]
DM_LO = [(2005.16,.281),(2005.34,.275),(2005.71,.266),(2006.07,.264),(2006.44,.266),(2006.81,.269),(2007.17,.273),(2007.54,.278),(2007.90,.285),(2008.27,.290),(2008.64,.297),(2009.00,.307),(2009.19,.302),(2009.37,.326),(2009.52,.350),(2009.66,.340),(2009.81,.330),(2009.96,.311),(2010.10,.302),(2010.29,.297),(2010.47,.290),(2010.65,.285),(2010.84,.281),(2011.02,.278),(2011.20,.275),(2011.38,.273),(2011.57,.273),(2011.75,.271),(2011.93,.269),(2012.12,.311),(2012.30,.297),(2012.48,.292),(2012.67,.285),(2012.85,.278),(2013.03,.273),(2013.22,.269),(2013.40,.264),(2013.58,.262),(2013.77,.259),(2014.13,.259),(2014.50,.259),(2014.86,.264),(2015.23,.266),(2015.60,.269),(2015.96,.266),(2016.33,.264),(2016.70,.262),(2017.06,.264),(2017.43,.262),(2017.80,.262),(2018.16,.259),(2018.53,.262),(2018.89,.269),(2019.26,.278),(2019.63,.283),(2019.96,.288),(2020.07,.335),(2020.22,.340),(2020.36,.321),(2020.54,.297),(2020.68,.288)]

EM_MED = [(2005.15,.0404),(2005.34,.0400),(2005.52,.0409),(2005.71,.0396),(2005.89,.0382),(2006.07,.0409),(2006.26,.0391),(2006.44,.0367),(2006.63,.0382),(2006.81,.0364),(2007.00,.0400),(2007.18,.0455),(2007.36,.0500),(2007.55,.0482),(2007.73,.0440),(2007.92,.0418),(2008.10,.0436),(2008.28,.0409),(2008.47,.0509),(2008.65,.0555),(2008.84,.0536),(2009.02,.0545),(2009.21,.0527),(2009.39,.0567),(2009.57,.0545),(2009.76,.0509),(2009.94,.0491),(2010.13,.0518),(2010.31,.0555),(2010.50,.0509),(2010.68,.0491),(2010.86,.0455),(2011.05,.0427),(2011.23,.0400),(2011.42,.0382),(2011.60,.0409),(2011.78,.0400),(2011.97,.0418),(2012.15,.0409),(2012.34,.0427),(2012.52,.0400),(2012.71,.0409),(2012.89,.0382),(2013.07,.0364),(2013.26,.0345),(2013.44,.0336),(2013.63,.0364),(2013.81,.0409),(2014.00,.0400),(2014.18,.0385),(2014.36,.0396),(2014.55,.0373),(2014.73,.0391),(2014.92,.0364),(2015.10,.0355),(2015.29,.0373),(2015.47,.0355),(2015.65,.0382),(2015.84,.0382),(2016.02,.0367),(2016.21,.0373),(2016.39,.0355),(2016.57,.0345),(2016.76,.0360),(2016.94,.0345),(2017.13,.0336),(2017.31,.0345),(2017.50,.0327),(2017.68,.0364),(2017.86,.0336),(2018.05,.0327),(2018.23,.0327),(2018.42,.0382),(2018.60,.0373),(2018.79,.0355),(2018.97,.0373),(2019.15,.0391),(2019.34,.0373),(2019.52,.0364),(2019.71,.0364),(2019.89,.0345),(2020.00,.0473),(2020.15,.0464),(2020.37,.0445),(2020.55,.0427),(2020.68,.0412)]
EM_UP = [(2005.15,.0518),(2005.34,.0545),(2005.52,.0527),(2005.71,.0518),(2005.89,.0536),(2006.07,.0564),(2006.26,.0545),(2006.44,.0555),(2006.63,.0527),(2006.81,.0536),(2007.00,.0573),(2007.18,.0600),(2007.36,.0582),(2007.55,.0573),(2007.73,.0627),(2007.92,.0655),(2008.10,.0627),(2008.28,.0645),(2008.47,.0673),(2008.65,.0655),(2008.84,.0645),(2009.02,.0627),(2009.21,.0609),(2009.39,.0655),(2009.50,.0909),(2009.65,.0855),(2009.76,.0800),(2009.94,.0764),(2010.13,.0736),(2010.31,.0709),(2010.50,.0691),(2010.68,.0673),(2010.86,.0664),(2011.05,.0627),(2011.23,.0609),(2011.42,.0636),(2011.60,.0600),(2011.78,.0618),(2011.97,.0591),(2012.15,.0582),(2012.34,.0564),(2012.52,.0555),(2012.71,.0545),(2012.89,.0527),(2013.07,.0509),(2013.26,.0491),(2013.44,.0482),(2013.63,.0509),(2013.81,.0664),(2014.00,.0627),(2014.18,.0564),(2014.36,.0582),(2014.55,.0545),(2014.73,.0555),(2014.92,.0536),(2015.10,.0509),(2015.29,.0527),(2015.47,.0518),(2015.65,.0600),(2015.77,.0718),(2015.95,.0727),(2016.10,.0709),(2016.28,.0673),(2016.46,.0600),(2016.65,.0527),(2016.83,.0473),(2017.02,.0445),(2017.20,.0427),(2017.39,.0436),(2017.57,.0445),(2017.76,.0436),(2017.94,.0455),(2018.12,.0464),(2018.31,.0473),(2018.49,.0464),(2018.68,.0482),(2018.86,.0473),(2019.04,.0464),(2019.23,.0473),(2019.41,.0482),(2019.60,.0473),(2019.78,.0482),(2019.97,.0455),(2020.07,.0645),(2020.26,.0618),(2020.44,.0582),(2020.63,.0536),(2020.68,.0525)]
EM_LO = [(2005.15,.0300),(2005.34,.0327),(2005.52,.0345),(2005.71,.0309),(2005.89,.0291),(2006.07,.0327),(2006.26,.0345),(2006.44,.0318),(2006.63,.0309),(2006.81,.0318),(2007.00,.0327),(2007.18,.0355),(2007.36,.0336),(2007.55,.0318),(2007.73,.0282),(2007.92,.0273),(2008.10,.0309),(2008.28,.0364),(2008.47,.0382),(2008.65,.0409),(2008.84,.0400),(2009.02,.0391),(2009.21,.0400),(2009.39,.0364),(2009.57,.0382),(2009.76,.0427),(2009.94,.0409),(2010.13,.0382),(2010.31,.0364),(2010.50,.0345),(2010.68,.0336),(2010.86,.0327),(2011.05,.0309),(2011.23,.0291),(2011.42,.0282),(2011.60,.0273),(2011.78,.0276),(2011.97,.0287),(2012.15,.0282),(2012.34,.0273),(2012.52,.0264),(2012.71,.0258),(2013.07,.0255),(2013.44,.0251),(2013.81,.0255),(2014.18,.0251),(2014.55,.0249),(2014.92,.0249),(2015.29,.0245),(2015.65,.0249),(2016.02,.0255),(2016.39,.0249),(2016.76,.0251),(2017.13,.0245),(2017.50,.0249),(2017.86,.0251),(2018.23,.0255),(2018.60,.0264),(2018.97,.0273),(2019.34,.0276),(2019.71,.0282),(2019.97,.0291),(2020.07,.0364),(2020.26,.0391),(2020.44,.0373),(2020.63,.0378),(2020.68,.0385)]

# y axes: (range start, range end, tick values, tick labels)
Y_EQ_RET = (0.0278, 0.06, [0.03, 0.04, 0.05, 0.06], ["0.03", "0.04", "0.05", "0.06"])
Y_EQ_IN = (4.2, 15.0, [5, 10, 15], ["5", "10", "15"])
Y_EQ_OUT = (4.0, 10.4, [4, 6, 8, 10], ["4", "6", "8", "10"])
Y_BOND_RET = (0.0089, 0.0244, [0.01, 0.015, 0.02], ["0.01", "0.015", "0.02"])
Y_BOND_IN = (4.0, 10.0, [4, 6, 8, 10], ["4", "6", "8", "10"])
Y_BOND_OUT = (0.006, 0.0230, [0.01, 0.015, 0.02], ["0.01", "0.015", "0.02"])
Y_MIX_RET = (0.01, 0.03, [0.01, 0.02, 0.03], ["0.01", "0.02", "0.03"])
Y_MIX_IN = (3.33, 10.53, [4, 6, 8, 10], ["4", "6", "8", "10"])
Y_MIX_OUT = (2.46, 10.0, [4, 6, 8, 10], ["4", "6", "8", "10"])
Y_RE_RET = (0.0124, 0.06, [0.02, 0.04, 0.06], ["0.02", "0.04", "0.06"])
Y_RE_IN = (0.0, 0.15, [0.0, 0.05, 0.10, 0.15], ["0", "0.05", "0.10", "0.15"])
Y_RE_OUT = (0.0, 0.06, [0.0, 0.02, 0.04, 0.06], ["0", "0.02", "0.04", "0.06"])
Y_HEDGE_RET = (0.0169, 0.0455, [0.02, 0.03, 0.04], ["0.02", "0.03", "0.04"])
Y_HEDGE_IN = (0.0, 0.06, [0.0, 0.02, 0.04, 0.06], ["0", "0.02", "0.04", "0.06"])
Y_HEDGE_OUT = (0.005, 0.02, [0.005, 0.01, 0.015, 0.02], ["0.005", "0.01", "0.015", "0.02"])
Y_OTHER_RET = (0.02, 0.0683, [0.02, 0.04, 0.06], ["0.02", "0.04", "0.06"])
Y_OTHER_IN = (0.0, 0.08, [0.0, 0.02, 0.04, 0.06, 0.08], ["0", "0.02", "0.04", "0.06", "0.08"])
Y_OTHER_OUT = (0.005, 0.02, [0.005, 0.01, 0.015, 0.02], ["0.005", "0.01", "0.015", "0.02"])
Y_MM_RET = (0.01, 0.025, [0.01, 0.015, 0.02, 0.025], ["0.01", "0.015", "0.02", "0.025"])
Y_MM_IN = (0.0, 0.2, [0.0, 0.1, 0.2], ["0", "0.1", "0.2"])
Y_MM_OUT = (0.0449, 0.1669, [0.05, 0.10, 0.15], ["0.05", "0.10", "0.15"])
Y_DM = (0.2, 0.6, [0.2, 0.4, 0.6], ["0.2", "0.4", "0.6"])
Y_EM = (0.0242, 0.10, [0.04, 0.06, 0.08, 0.10], ["0.04", "0.06", "0.08", "0.10"])

GRID_DATA = [
    [(EQ_RET, Y_EQ_RET, False), (EQ_IN, Y_EQ_IN, True), (EQ_OUT, Y_EQ_OUT, True)],
    [(BOND_RET, Y_BOND_RET, False), (BOND_IN, Y_BOND_IN, True), (BOND_OUT, Y_BOND_OUT, False)],
    [(MIX_RET, Y_MIX_RET, False), (MIX_IN, Y_MIX_IN, True), (MIX_OUT, Y_MIX_OUT, True)],
    [(RE_RET, Y_RE_RET, False), (RE_IN, Y_RE_IN, False), (RE_OUT, Y_RE_OUT, False)],
    [(HEDGE_RET, Y_HEDGE_RET, False), (HEDGE_IN, Y_HEDGE_IN, False), (HEDGE_OUT, Y_HEDGE_OUT, False)],
    [(OTHER_RET, Y_OTHER_RET, False), (OTHER_IN, Y_OTHER_IN, False), (OTHER_OUT, Y_OTHER_OUT, False)],
    [(MM_RET, Y_MM_RET, False), (MM_IN, Y_MM_IN, False), (MM_OUT, Y_MM_OUT, False)],
]

# ---------------- layout (page px) ----------------
PAGE_W, PAGE_H = 1331, 1688
COL_B = [0, 455, 905, PAGE_W]
FRAME_L = [82, 532, 975]
FRAME_W = [359, 359, PAGE_W - 975]
ROW_B = [0, 223, 444, 664, 866, 1068, 1270, 1471, PAGE_H]
FRAME_T = [43, 264, 484, 686, 888, 1090, 1291, 1516]
FRAME_H = [144] * 7 + [140]
XSTART = [2005.21, 2005.21, 2005.175]
XEND = [2020.68, 2020.68, 2020.62]
TITLE_X = [251, 687, 1144]
BOTTOM_TITLE_X = [246, 709]
LINE_W = 2.7


def base_fig(r, c, yspec):
    w = COL_B[c + 1] - COL_B[c]
    h = ROW_B[r + 1] - ROW_B[r]
    bl = FRAME_L[c] - COL_B[c]
    br = w - bl - FRAME_W[c]
    bt = FRAME_T[r] - ROW_B[r]
    bb = h - bt - FRAME_H[r]
    y0, y1, yt, yl = yspec
    p = figure(width=w, height=h, x_range=Range1d(XSTART[c], XEND[c]),
               y_range=Range1d(y0, y1), output_backend="svg", toolbar_location=None,
               min_border_left=bl, min_border_right=br, min_border_top=bt,
               min_border_bottom=bb)
    p.background_fill_color = BG
    p.border_fill_color = BG
    p.outline_line_color = None
    p.xgrid.visible = False
    ticks = list(yt)
    over = {t: s for t, s in zip(yt, yl)}
    for e in (y0, y1):
        if all(abs(e - t) > 1e-9 for t in yt):
            ticks.append(e)
            over[e] = ""
    p.yaxis.ticker = FixedTicker(ticks=ticks)
    p.ygrid.ticker = FixedTicker(ticks=ticks)
    p.yaxis.major_label_overrides = over
    p.ygrid.grid_line_color = GRID
    p.ygrid.grid_line_width = 1
    p.yaxis.axis_line_color = AXIS
    p.yaxis.axis_line_width = 1.2
    p.yaxis.major_tick_in = 0
    p.yaxis.major_tick_out = 5
    p.yaxis.major_tick_line_color = GRID
    p.yaxis.minor_tick_line_color = None
    p.yaxis.major_label_standoff = 6
    p.yaxis.major_label_text_font = FONT
    p.yaxis.major_label_text_font_size = "17px"
    p.yaxis.major_label_text_color = TXT
    p.xaxis.ticker = FixedTicker(ticks=YEAR_TICKS)
    p.xaxis.major_label_overrides = {t: s for t, s in zip(YEAR_TICKS, YEAR_LABELS)}
    p.xaxis.axis_line_color = None
    p.xaxis.major_tick_line_color = None
    p.xaxis.minor_tick_line_color = None
    p.xaxis.major_label_standoff = 13 if r < 7 else 7
    p.xaxis.major_label_text_font = FONT
    p.xaxis.major_label_text_font_size = "17px"
    p.xaxis.major_label_text_color = TXT
    return p


rows = []
for r, rowdata in enumerate(GRID_DATA):
    figs = []
    for c, (series, yspec, x10) in enumerate(rowdata):
        p = base_fig(r, c, yspec)
        p.line([a for a, b in series], [b for a, b in series], line_color=RED, line_width=LINE_W)
        figs.append(p)
    rows.append(row(*figs, spacing=0))

bottom = []
for c, (med, up, lo, yspec) in enumerate([(DM_MED, DM_UP, DM_LO, Y_DM), (EM_MED, EM_UP, EM_LO, Y_EM)]):
    p = base_fig(7, c, yspec)
    bx = [a for a, b in up] + [a for a, b in reversed(lo)]
    by = [b for a, b in up] + [b for a, b in reversed(lo)]
    p.patch(bx, by, fill_color=BLUE, line_color=BLUE, line_width=0.5)
    p.line([a for a, b in med], [b for a, b in med], line_color=RED, line_width=LINE_W)
    bottom.append(p)
filler = figure(width=COL_B[3] - COL_B[2], height=ROW_B[8] - ROW_B[7], x_axis_type=None,
                y_axis_type=None, output_backend="svg", toolbar_location=None, min_border=0,
                x_range=Range1d(0, 1), y_range=Range1d(0, 1))
filler.background_fill_color = BG
filler.border_fill_color = BG
filler.outline_line_color = None
bottom.append(filler)
rows.append(row(*bottom, spacing=0))
panels = column(*rows, spacing=0, styles={"background-color": BG})

# ---------------- transparent overlay for texts outside the plot frames ----------------
ov = figure(width=PAGE_W, height=PAGE_H, x_range=Range1d(0, PAGE_W), y_range=Range1d(PAGE_H, 0),
            x_axis_type=None, y_axis_type=None, output_backend="svg", toolbar_location=None,
            min_border=0)
ov.background_fill_alpha = 0
ov.border_fill_alpha = 0
ov.outline_line_color = None


def txt(x, y, s, size, bold=False, align="center", angle=0.0, color="#222222"):
    ov.add_layout(Label(x=x, y=y, text=s, text_align=align, text_baseline="middle",
                        text_font=FONT, text_font_style="bold" if bold else "normal",
                        text_font_size=size, text_color=color, angle=angle))


for c in range(3):
    txt(TITLE_X[c], 21.5, COL_TITLES[c], "15px", bold=True)
for c in range(2):
    txt(BOTTOM_TITLE_X[c], 1493, BOTTOM_TITLES[c], "15px", bold=True)
for r in range(7):
    txt(17, FRAME_T[r] + FRAME_H[r] / 2, ROW_LABELS[r], "15px", bold=True, angle=math.pi / 2)
    for c in range(3):
        if GRID_DATA[r][c][2]:
            x0 = FRAME_L[c] + (2 if c == 1 else -2)
            yc = FRAME_T[r] - 12
            txt(x0, yc, SCALE_TEXT[0], "14px", align="left", color=TXT)
            txt(x0 + 23, yc - 6, SCALE_TEXT[1], "9px", align="left", color=TXT)

# legend (proxy renderers lie outside the overlay's visible range)
r_med = ov.line([-60, -40], [-60, -60], line_color=RED, line_width=4)
r_iqr = ov.varea(x=[-60, -40], y1=[-60, -60], y2=[-50, -50], fill_color=BLUE)
common = dict(border_line_color=None, background_fill_alpha=0, padding=0, margin=0,
              label_text_font=FONT, label_text_font_size="14px", label_text_color=TXT,
              spacing=0)
leg1 = Legend(items=[LegendItem(label=LEGEND_LABELS[0], renderers=[r_med])],
              location=(974, PAGE_H - 1526), glyph_width=32, glyph_height=17,
              label_height=17, label_standoff=13, **common)
leg2 = Legend(items=[LegendItem(label=LEGEND_LABELS[1], renderers=[r_iqr])],
              location=(974, PAGE_H - 1560), glyph_width=16, glyph_height=20,
              label_height=20, label_standoff=29, **common)
ov.add_layout(leg1)
ov.add_layout(leg2)

page = GridBox(children=[(panels, 0, 0), (ov, 0, 0)], styles={"background-color": BG})
open("out.html", "w").write(file_html(page, INLINE))
